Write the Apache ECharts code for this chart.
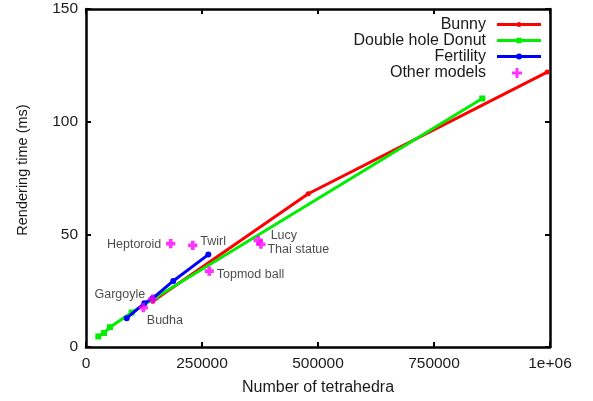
<!DOCTYPE html>
<html>
<head>
<meta charset="utf-8">
<script src="https://cdn.jsdelivr.net/npm/echarts@6/dist/echarts.min.js"></script>
<style>html,body{margin:0;padding:0;background:#fff}#c{width:593px;height:401px}</style>
</head>
<body>
<div id="c"></div>
<script>
const bunnyX = [144000, 479000, 994000];
const bunnyY = [20.3, 68, 122];
const donutX = [26500, 38800, 51700, 98500, 150000, 854000];
const donutY = [4.7, 6.2, 8.8, 15.3, 22, 110.3];
const fertX = [87700, 125700, 143700, 188000, 263600];
const fertY = [12.8, 19.4, 21.6, 29.3, 41];
const otherNames = ['Heptoroid', 'Twirl', 'Topmod ball', 'Lucy', 'Thai statue', 'Gargoyle', 'Budha'];
const otherX = [182500, 230000, 265700, 371000, 377000, 143700, 123500];
const otherY = [45.9, 45.1, 33.7, 47.3, 45.6, 21.3, 17.5];
const xTicks = [0, 250000, 500000, 750000, 1000000];
const yTicks = [0, 50, 100, 150];

const FONT = 'Liberation Sans, Arial, Helvetica, sans-serif';
const TXT = '#1a1a1a';
const zip = (xs, ys) => xs.map((x, i) => [x, ys[i]]);

const labelLayout = {
  'Heptoroid': { position: 'left', distance: 4, offset: [0, 1] },
  'Twirl': { position: 'right', distance: 2, offset: [0, -4] },
  'Topmod ball': { position: 'right', distance: 2, offset: [0, 3] },
  'Lucy': { position: 'right', distance: 2, offset: [5, -5] },
  'Thai statue': { position: 'right', distance: 1, offset: [0, 5] },
  'Gargoyle': { position: 'left', distance: 2, offset: [0, -4] },
  'Budha': { position: 'right', distance: 0, offset: [-2, 13] }
};

const plusPath = 'path://M0,0M12,12M4,1h4v3h3v4h-3v3h-4v-3h-3v-4h3z';
const plusLegend = 'path://M0,0M44,14M18.5,2.5h3v3.5h3.5v3h-3.5v3.5h-3v-3.5h-3.5v-3h3.5z';
const segs = (a, b) => 'M0,0M44,14M0,5.6H' + a + 'V8.4H0zM' + b + ',5.6H44V8.4H' + b + 'z';
const iconBunny = 'path://' + segs(19.6, 24.4) + 'M19.5,7a2.5,2.5 0 1,1 5,0a2.5,2.5 0 1,1 -5,0z';
const iconDonut = 'path://' + segs(19.3, 24.7) + 'M19.3,4.3h5.4v5.4h-5.4z';
const iconFert = 'path://' + segs(19.2, 24.8) + 'M19,7a3,3 0 1,1 6,0a3,3 0 1,1 -6,0z';

const axisCommon = {
  axisLine: { show: true, onZero: false, lineStyle: { color: '#000', width: 2.5 } },
  axisTick: { show: true, inside: true, length: 5, lineStyle: { color: '#000', width: 2 } },
  splitLine: { show: false }
};

const xMain = Object.assign({}, axisCommon, {
  type: 'value', position: 'bottom', min: xTicks[0], max: xTicks[xTicks.length - 1],
  interval: xTicks[1] - xTicks[0],
  name: 'Number of tetrahedra', nameLocation: 'middle', nameGap: 33,
  nameTextStyle: { fontFamily: FONT, fontSize: 16, color: TXT },
  axisLabel: { margin: 9, fontFamily: FONT, fontSize: 15.5, color: TXT,
    formatter: v => v === 1000000 ? '1e+06' : String(v) }
});
const xTop = Object.assign({}, axisCommon, {
  type: 'value', position: 'top', min: xTicks[0], max: xTicks[xTicks.length - 1],
  interval: xTicks[1] - xTicks[0], axisLabel: { show: false }
});
const yMain = Object.assign({}, axisCommon, {
  type: 'value', position: 'left', min: yTicks[0], max: yTicks[yTicks.length - 1],
  interval: yTicks[1] - yTicks[0],
  name: 'Rendering time (ms)', nameLocation: 'middle', nameGap: 56,
  nameTextStyle: { fontFamily: FONT, fontSize: 14.5, color: TXT, padding: [0, 0, 0, 16] },
  axisLabel: { margin: 8, fontFamily: FONT, fontSize: 15.5, color: TXT }
});
const yRight = Object.assign({}, axisCommon, {
  type: 'value', position: 'right', min: yTicks[0], max: yTicks[yTicks.length - 1],
  interval: yTicks[1] - yTicks[0], axisLabel: { show: false }
});

const option = {
  backgroundColor: '#fff',
  animation: false,
  grid: { left: 86, right: 43, top: 9, bottom: 52, containLabel: false },
  xAxis: [xMain, xTop],
  yAxis: [yMain, yRight],
  legend: {
    orient: 'vertical', align: 'right', right: 47, top: 11.5,
    itemWidth: 44, itemHeight: 14, itemGap: 0,
    textStyle: { fontFamily: FONT, fontSize: 16, lineHeight: 16, color: TXT, padding: [0, 6, 0, 0] },
    data: [
      { name: 'Bunny', icon: iconBunny },
      { name: 'Double hole Donut', icon: iconDonut },
      { name: 'Fertility', icon: iconFert },
      { name: 'Other models', icon: plusLegend }
    ]
  },
  series: [
    {
      name: 'Bunny', type: 'line', data: zip(bunnyX, bunnyY),
      symbol: 'circle', symbolSize: 5, showAllSymbol: true,
      lineStyle: { color: '#ff0000', width: 3 }, itemStyle: { color: '#ff0000' }, z: 3
    },
    {
      name: 'Double hole Donut', type: 'line', data: zip(donutX, donutY),
      symbol: 'rect', symbolSize: 6, showAllSymbol: true,
      lineStyle: { color: '#00ee00', width: 3 }, itemStyle: { color: '#00ee00' }, z: 4
    },
    {
      name: 'Fertility', type: 'line', data: zip(fertX, fertY),
      symbol: 'circle', symbolSize: 6, showAllSymbol: true,
      lineStyle: { color: '#0000ff', width: 3 }, itemStyle: { color: '#0000ff' }, z: 5
    },
    {
      name: 'Other models', type: 'scatter', z: 6,
      symbol: plusPath, symbolSize: 11,
      itemStyle: { color: '#ff00ff' },
      data: otherNames.map((n, i) => ({
        name: n, value: [otherX[i], otherY[i]],
        label: Object.assign({ show: true, formatter: '{b}', fontFamily: FONT, fontSize: 12.5, color: TXT }, labelLayout[n])
      }))
    }
  ]
};

echarts.init(document.getElementById('c'), null, { renderer: 'canvas' }).setOption(option);
</script>
</body>
</html>
